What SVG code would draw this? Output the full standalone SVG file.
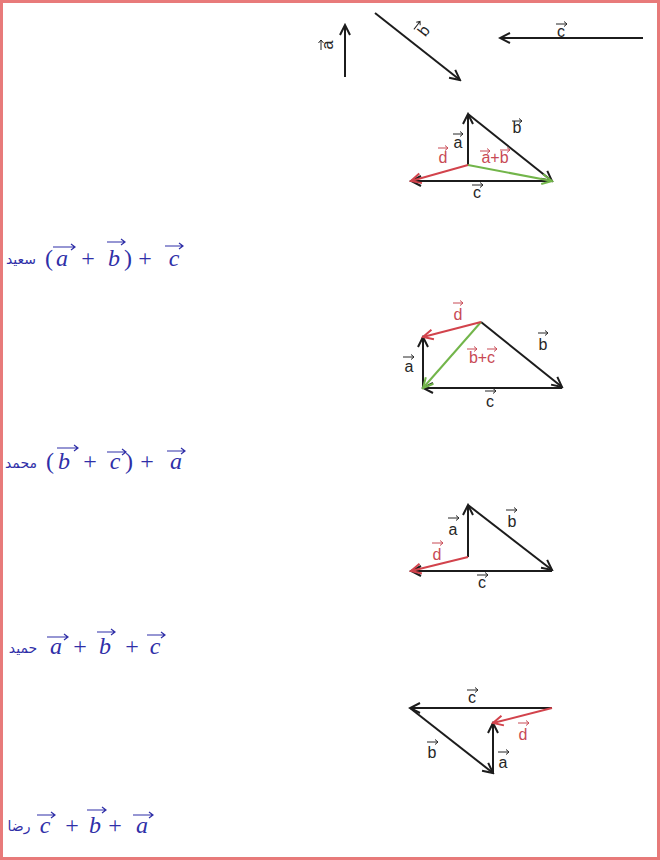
<svg xmlns="http://www.w3.org/2000/svg" width="660" height="860" viewBox="0 0 660 860">
<style>
.bk{stroke:#1c1c1c;stroke-width:2;fill:none}
.rd{stroke:#d2434c;stroke-width:2;fill:none}
.gr{stroke:#72b54a;stroke-width:2;fill:none}
.lt{font-family:"Liberation Sans",Arial,sans-serif;font-size:16px;fill:#262626;text-anchor:middle}
.lr{font-family:"Liberation Sans",Arial,sans-serif;font-size:16px;fill:#c84a55;text-anchor:middle}
.la{stroke:#262626;stroke-width:1;fill:none}
.lar{stroke:#c84a55;stroke-width:1;fill:none}
.mi{font-family:"Liberation Serif","Times New Roman",serif;font-style:italic;font-size:24px;fill:#2f2fa8;text-anchor:middle}
.mo{font-family:"Liberation Serif","Times New Roman",serif;font-size:24px;fill:#2f2fa8;text-anchor:middle}
.nm{font-family:"DejaVu Sans",sans-serif;font-size:14px;fill:#2f2fa8;text-anchor:middle}
.ma{stroke:#2f2fa8;stroke-width:1.2;fill:none}
</style>
<defs>
<marker id="hb" viewBox="-12 -7 14 14" refX="0" refY="0" markerWidth="14" markerHeight="14" orient="auto" markerUnits="userSpaceOnUse"><path d="M-10,-5 L0,0 L-10,5" fill="none" stroke="#1c1c1c" stroke-width="2"/></marker>
<marker id="hr" viewBox="-12 -7 14 14" refX="0" refY="0" markerWidth="14" markerHeight="14" orient="auto" markerUnits="userSpaceOnUse"><path d="M-10,-5 L0,0 L-10,5" fill="none" stroke="#d2434c" stroke-width="2"/></marker>
<marker id="hg" viewBox="-12 -7 14 14" refX="0" refY="0" markerWidth="14" markerHeight="14" orient="auto" markerUnits="userSpaceOnUse"><path d="M-10,-5 L0,0 L-10,5" fill="none" stroke="#72b54a" stroke-width="2"/></marker>
</defs>
<rect x="0" y="0" width="660" height="860" fill="#ffffff"/>
<rect x="1.5" y="1.5" width="657" height="857" fill="none" stroke="#e87a7a" stroke-width="3"/>

<g id="given-vectors">
<g id="connectors-top">
<path class="bk" d="M345,77 L345,25" marker-end="url(#hb)"/>
<path class="bk" d="M375,13 L460,80" marker-end="url(#hb)"/>
<path class="bk" d="M643,38 L500,38" marker-end="url(#hb)"/>
</g>
<g id="label-a-top" transform="translate(333,45) rotate(-90)"><text class="lt" x="0" y="0">a</text><path class="la" d="M-5,-12 L5,-12 M2,-14.5 L5,-12 L2,-9.5"/></g>
<g id="label-b-top" transform="translate(428,34) rotate(-52)"><text class="lt" x="0" y="0">b</text><path class="la" d="M-5,-14 L5,-14 M2,-16.5 L5,-14 L2,-11.5"/></g>
<g id="label-c-top"><text class="lt" x="561" y="37">c</text><path class="la" d="M556,24 L567,24 M564,21.5 L567,24 L564,26.5"/></g>
</g>

<g id="fig1">
<g id="connectors-1">
<path class="bk" d="M468,165 L468,114" marker-end="url(#hb)"/>
<path class="bk" d="M468,114 L552,181" marker-end="url(#hb)"/>
<path class="bk" d="M552,181 L411,181" marker-end="url(#hb)"/>
<path class="gr" d="M468,165 L552,181" marker-end="url(#hg)"/>
<path class="rd" d="M468,165 L411,181" marker-end="url(#hr)"/>
</g>
<text class="lt" x="458" y="148">a</text><path class="la" d="M453,134 L463,134 M460,131.5 L463,134 L460,136.5"/>
<text class="lt" x="517" y="133">b</text><path class="la" d="M512,121 L522,121 M519,118.5 L522,121 L519,123.5"/>
<text class="lr" x="443" y="163">d</text><path class="lar" d="M438,148 L448,148 M445,145.5 L448,148 L445,150.5"/>
<text class="lr" x="495" y="163">a+b</text><path class="lar" d="M480,151 L490,151 M487,148.5 L490,151 L487,153.5 M500,150 L510,150 M507,147.5 L510,150 L507,152.5"/>
<text class="lt" x="477" y="198">c</text><path class="la" d="M472,185 L483,185 M480,182.5 L483,185 L480,187.5"/>
</g>

<g id="fig2">
<g id="connectors-2">
<path class="bk" d="M423,388 L423,337" marker-end="url(#hb)"/>
<path class="bk" d="M481,322 L562,387" marker-end="url(#hb)"/>
<path class="bk" d="M562,388 L423,388" marker-end="url(#hb)"/>
<path class="gr" d="M481,322 L423,388" marker-end="url(#hg)"/>
<path class="rd" d="M481,322 L423,337" marker-end="url(#hr)"/>
</g>
<text class="lr" x="458" y="320">d</text><path class="lar" d="M453,303 L463,303 M460,300.5 L463,303 L460,305.5"/>
<text class="lt" x="543" y="350">b</text><path class="la" d="M538,333 L548,333 M545,330.5 L548,333 L545,335.5"/>
<text class="lr" x="482" y="363">b+c</text><path class="lar" d="M467,349 L477,349 M474,346.5 L477,349 L474,351.5 M487,349 L497,349 M494,346.5 L497,349 L494,351.5"/>
<text class="lt" x="409" y="372">a</text><path class="la" d="M403,357 L414,357 M411,354.5 L414,357 L411,359.5"/>
<text class="lt" x="490" y="407">c</text><path class="la" d="M485,391 L496,391 M493,388.5 L496,391 L493,393.5"/>
</g>

<g id="fig3">
<g id="connectors-3">
<path class="bk" d="M468,557 L468,505" marker-end="url(#hb)"/>
<path class="bk" d="M468,505 L552,570" marker-end="url(#hb)"/>
<path class="bk" d="M552,571 L411,571" marker-end="url(#hb)"/>
<path class="rd" d="M468,557 L411,571" marker-end="url(#hr)"/>
</g>
<text class="lt" x="453" y="535">a</text><path class="la" d="M448,518 L459,518 M456,515.5 L459,518 L456,520.5"/>
<text class="lt" x="512" y="527">b</text><path class="la" d="M506,510 L517,510 M514,507.5 L517,510 L514,512.5"/>
<text class="lr" x="437" y="560">d</text><path class="lar" d="M432,543 L443,543 M440,540.5 L443,543 L440,545.5"/>
<text class="lt" x="482" y="588">c</text><path class="la" d="M477,575 L488,575 M485,572.5 L488,575 L485,577.5"/>
</g>

<g id="fig4">
<g id="connectors-4">
<path class="bk" d="M552,708 L410,708" marker-end="url(#hb)"/>
<path class="bk" d="M410,708 L493,773" marker-end="url(#hb)"/>
<path class="bk" d="M493,773 L493,723" marker-end="url(#hb)"/>
<path class="rd" d="M552,708 L493,723" marker-end="url(#hr)"/>
</g>
<text class="lt" x="472" y="703">c</text><path class="la" d="M467,690 L478,690 M475,687.5 L478,690 L475,692.5"/>
<text class="lr" x="523" y="740">d</text><path class="lar" d="M518,723 L529,723 M526,720.5 L529,723 L526,725.5"/>
<text class="lt" x="432" y="758">b</text><path class="la" d="M427,742 L438,742 M435,739.5 L438,742 L435,744.5"/>
<text class="lt" x="503" y="768">a</text><path class="la" d="M498,752 L509,752 M506,749.5 L509,752 L506,754.5"/>
</g>

<g id="formula-1">
<text class="nm" x="21" y="264">سعيد</text>
<text class="mo" x="49" y="266">(</text>
<text class="mi" x="62" y="266">a</text><path class="ma" d="M53,247 L75,247 M71,244 L75,247 L71,250"/>
<text class="mo" x="88" y="266">+</text>
<text class="mi" x="114" y="266">b</text><path class="ma" d="M107,242 L125,242 M121,239 L125,242 L121,245"/>
<text class="mo" x="128" y="266">)</text>
<text class="mo" x="145" y="266">+</text>
<text class="mi" x="174" y="266">c</text><path class="ma" d="M165,246 L183,246 M179,243 L183,246 L179,249"/>
</g>

<g id="formula-2">
<text class="nm" x="21" y="468">محمد</text>
<text class="mo" x="50" y="469">(</text>
<text class="mi" x="64" y="469">b</text><path class="ma" d="M57,448 L78,448 M74,445 L78,448 L74,451"/>
<text class="mo" x="90" y="469">+</text>
<text class="mi" x="115" y="469">c</text><path class="ma" d="M107,452 L126,452 M122,449 L126,452 L122,455"/>
<text class="mo" x="129" y="469">)</text>
<text class="mo" x="147" y="469">+</text>
<text class="mi" x="176" y="469">a</text><path class="ma" d="M167,451 L185,451 M181,448 L185,451 L181,454"/>
</g>

<g id="formula-3">
<text class="nm" x="23" y="653">حميد</text>
<text class="mi" x="56" y="654">a</text><path class="ma" d="M47,637 L68,637 M64,634 L68,637 L64,640"/>
<text class="mo" x="80" y="654">+</text>
<text class="mi" x="105" y="654">b</text><path class="ma" d="M97,632 L115,632 M111,629 L115,632 L111,635"/>
<text class="mo" x="132" y="654">+</text>
<text class="mi" x="155" y="654">c</text><path class="ma" d="M147,635 L165,635 M161,632 L165,635 L161,638"/>
</g>

<g id="formula-4">
<text class="nm" x="19" y="831">رضا</text>
<text class="mi" x="45" y="833">c</text><path class="ma" d="M37,815 L55,815 M51,812 L55,815 L51,818"/>
<text class="mo" x="72" y="833">+</text>
<text class="mi" x="95" y="833">b</text><path class="ma" d="M87,810 L106,810 M102,807 L106,810 L102,813"/>
<text class="mo" x="115" y="833">+</text>
<text class="mi" x="142" y="833">a</text><path class="ma" d="M133,815 L153,815 M149,812 L153,815 L149,818"/>
</g>
</svg>
